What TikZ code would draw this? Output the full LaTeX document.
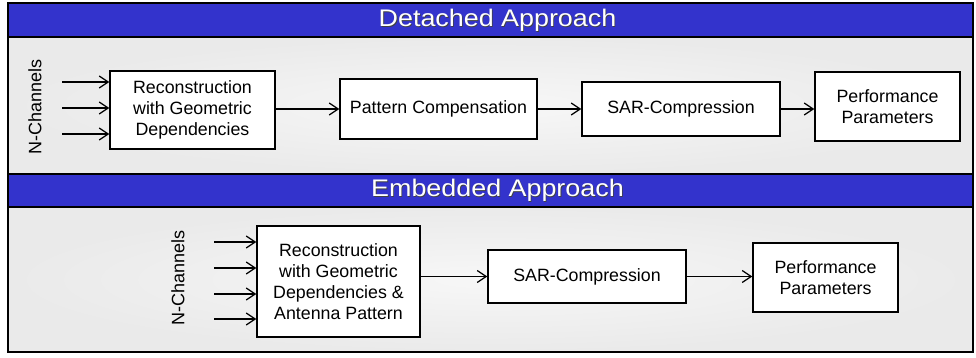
\documentclass[tikz,border=0pt]{standalone}
\usepackage{fontspec}
\setmainfont{Liberation Sans}
\usetikzlibrary{arrows.meta}
\definecolor{barblue}{RGB}{51,51,204}
\definecolor{panelout}{RGB}{234,234,234}
\definecolor{panelin}{RGB}{247,247,247}
\tikzset{
  box/.style={draw=black, line width=1.3pt, fill=white, align=center, inner sep=0pt,
    font=\fontsize{17.8}{21}\selectfont},
  conn/.style={-{Straight Barb[length=9pt,width=12pt,line width=1.3pt]}, line width=1.3pt},
  chlabel/.style={rotate=90, font=\fontsize{18}{20}\selectfont},
  titletext/.style={text=white, font=\fontsize{24}{28}\selectfont, xscale=1.12},
  shadowtext/.style={text=black!75, font=\fontsize{24}{28}\selectfont, xscale=1.12},
}
\begin{document}
\begin{tikzpicture}[x=1pt,y=-1pt]
\useasboundingbox (0,0) rectangle (976,358);
% panels
\shade[inner color=panelin, outer color=panelout] (8,37) rectangle (973,174);
\shade[inner color=panelin, outer color=panelout] (8,207) rectangle (973,352);
\fill[barblue] (8,3) rectangle (973,37);
\fill[barblue] (8,174) rectangle (973,207);
\draw[line width=1.6pt] (8,3) rectangle (973,174);
\draw[line width=1.6pt] (8,37) -- (973,37);
\draw[line width=1.6pt] (8,174) rectangle (973,352);
\draw[line width=1.6pt] (8,207) -- (973,207);
% titles
\node[shadowtext] at (498.3,21.3) {Detached Approach};
\node[titletext, name=t1] at (497.5,20.5) {Detached Approach};
\node[shadowtext] at (498.3,191.3) {Embedded Approach};
\node[titletext, name=t2] at (497.5,190.5) {Embedded Approach};

% ---- detached
\node[chlabel] (ch1) at (35,107) {N-Channels};
\node[box, minimum width=165pt, minimum height=78pt] (r1) at (192.5,110) {Reconstruction\\with Geometric\\Dependencies};
\node[box, minimum width=197pt, minimum height=60pt] (pc) at (438.5,109) {Pattern Compensation};
\node[box, minimum width=198pt, minimum height=54pt] (sar1) at (681,109) {SAR-Compression};
\node[box, minimum width=145pt, minimum height=69pt] (pp1) at (887.5,106.5) {Performance\\Parameters};
\coordinate (a1) at (62,82);
\coordinate (a2) at (62,108);
\coordinate (a3) at (62,134);
\draw[conn] (a1) -- (a1 -| r1.west);
\draw[conn] (a2) -- (a2 -| r1.west);
\draw[conn] (a3) -- (a3 -| r1.west);
\draw[conn] (r1.east |- pc.west) -- (pc.west);
\draw[conn] (pc.east) -- (sar1.west);
\draw[conn] (sar1.east) -- (sar1.east -| pp1.west);

% ---- embedded
\node[chlabel] (ch2) at (178,278) {N-Channels};
\node[box, minimum width=163pt, minimum height=111pt] (r2) at (338.5,281.5) {Reconstruction\\with Geometric\\Dependencies \&\\Antenna Pattern};
\node[box, minimum width=198pt, minimum height=53pt] (sar2) at (587,276.5) {SAR-Compression};
\node[box, minimum width=145pt, minimum height=69pt] (pp2) at (825.5,277.5) {Performance\\Parameters};
\coordinate (b1) at (214,242);
\coordinate (b2) at (214,268);
\coordinate (b3) at (214,294);
\coordinate (b4) at (214,319);
\draw[conn] (b1) -- (b1 -| r2.west);
\draw[conn] (b2) -- (b2 -| r2.west);
\draw[conn] (b3) -- (b3 -| r2.west);
\draw[conn] (b4) -- (b4 -| r2.west);
\draw[conn] (r2.east |- sar2.west) -- (sar2.west);
\draw[conn] (sar2.east) -- (sar2.east -| pp2.west);
\end{tikzpicture}
\end{document}
